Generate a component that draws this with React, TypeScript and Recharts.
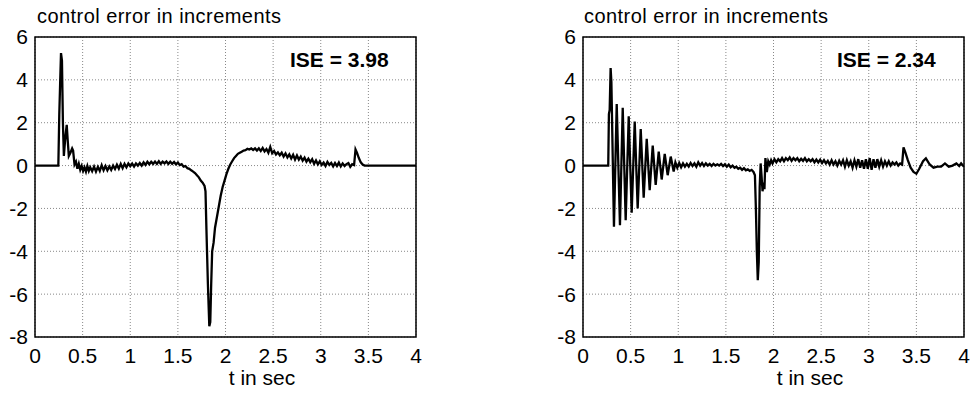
import { LineChart, Line, XAxis, YAxis, CartesianGrid, ReferenceArea } from 'recharts';

// time ticks and error ticks shared by both panels
const timeTicks = [0, 0.5, 1, 1.5, 2, 2.5, 3, 3.5, 4];
const errorTicks = [-8, -6, -4, -2, 0, 2, 4, 6];

const panelTitle = 'control error in increments';
const timeLabel = 't in sec';
const iseLabels = ['ISE = 3.98', 'ISE = 2.34'];

// left panel: sample times (s) and control error
const leftTime = [
  0, 0.24, 0.245, 0.255, 0.265, 0.273, 0.283, 0.293, 0.303, 0.318, 0.333, 0.343, 0.355, 0.372, 0.39, 0.4, 0.415,
  0.43, 0.445, 0.46, 0.475, 0.49, 0.505, 0.52, 0.535, 0.55, 0.565, 0.58, 0.6, 0.62, 0.64, 0.66, 0.68, 0.7,
  0.72, 0.74, 0.76, 0.78, 0.8, 0.82, 0.84, 0.86, 0.88, 0.9, 0.92, 0.94, 0.96, 0.98, 1.0, 1.02, 1.04, 1.06,
  1.08, 1.1, 1.12, 1.14, 1.16, 1.18, 1.2, 1.22, 1.24, 1.26, 1.28, 1.3, 1.32, 1.34, 1.36, 1.38, 1.4, 1.42,
  1.44, 1.46, 1.48, 1.5, 1.52, 1.54, 1.56, 1.58, 1.6, 1.62, 1.64, 1.66, 1.68, 1.7, 1.72, 1.74, 1.76, 1.78,
  1.79, 1.8, 1.815, 1.83, 1.84, 1.85, 1.86, 1.875, 1.89, 1.91, 1.93, 1.95, 1.97, 1.99, 2.01, 2.03, 2.05,
  2.07, 2.09, 2.11, 2.13, 2.15, 2.17, 2.19, 2.21, 2.23, 2.25, 2.27, 2.29, 2.31, 2.33, 2.35, 2.37, 2.39,
  2.41, 2.43, 2.45, 2.47, 2.49, 2.51, 2.53, 2.55, 2.57, 2.59, 2.61, 2.63, 2.65, 2.67, 2.69, 2.71, 2.73,
  2.75, 2.77, 2.79, 2.81, 2.83, 2.85, 2.87, 2.89, 2.91, 2.93, 2.95, 2.97, 2.99, 3.01, 3.03, 3.05, 3.07,
  3.09, 3.11, 3.13, 3.15, 3.17, 3.19, 3.21, 3.23, 3.25, 3.27, 3.29, 3.31, 3.33, 3.35, 3.365, 3.38, 3.4,
  3.42, 3.44, 3.46, 4.0,
];
const leftError = [
  0, 0, 0, 2.4, 4.0, 5.25, 4.9, 2.0, 0.45, 1.3, 1.9, 1.2, 0.45, 0.6, 0.8, 0.7, 0.05,
  0.18, -0.15, 0.08, -0.2, -0.02, -0.25, -0.08, -0.28, -0.02, -0.25, -0.08, -0.26, -0.05, -0.28, -0.06, -0.25, 0.02,
  -0.22, -0.02, -0.22, -0.04, -0.2, 0.0, -0.16, 0.04, -0.14, 0.08, -0.12, 0.08, -0.08, 0.1, -0.03, 0.09, -0.05, 0.1,
  0.0, 0.12, 0.0, 0.15, 0.03, 0.18, 0.06, 0.18, 0.08, 0.19, 0.08, 0.2, 0.08, 0.18, 0.1, 0.19, 0.08, 0.18,
  0.08, 0.17, 0.06, 0.14, 0.02, 0.06, -0.05, -0.02, -0.12, -0.15, -0.22, -0.28, -0.35, -0.45, -0.55, -0.7, -0.8, -0.95,
  -1.2, -3.0, -5.5, -7.5, -7.3, -5.5, -4.0, -3.6, -2.9, -2.4, -1.9, -1.4, -1.0, -0.7, -0.4, -0.15, 0.05,
  0.2, 0.35, 0.45, 0.55, 0.6, 0.65, 0.7, 0.72, 0.78, 0.75, 0.8, 0.73, 0.8, 0.7, 0.8, 0.68, 0.82,
  0.66, 0.77, 0.6, 0.87, 0.58, 0.68, 0.52, 0.62, 0.48, 0.6, 0.42, 0.57, 0.38, 0.52, 0.33, 0.5, 0.28,
  0.47, 0.28, 0.42, 0.23, 0.37, 0.18, 0.32, 0.16, 0.3, 0.08, 0.24, 0.06, 0.2, 0.03, 0.14, -0.02, 0.17,
  0.03, 0.12, -0.04, 0.12, -0.02, 0.14, -0.04, 0.1, -0.02, 0.07, 0.12, -0.06, 0.06, 0.02, 0.75, 0.6, 0.35,
  0.15, 0.05, 0.0, 0,
];

// right panel: sample times (s) and control error
const rightTime = [
  0, 0.265, 0.272, 0.28, 0.29, 0.298, 0.325, 0.354, 0.388, 0.417, 0.448, 0.48, 0.511, 0.543, 0.574, 0.606,
  0.637, 0.669, 0.7, 0.732, 0.763, 0.795, 0.826, 0.858, 0.889, 0.921, 0.952, 0.97, 0.99, 1.01, 1.03, 1.05,
  1.07, 1.09, 1.11, 1.13, 1.15, 1.17, 1.19, 1.21, 1.23, 1.25, 1.27, 1.29, 1.31, 1.33, 1.35, 1.37, 1.39,
  1.41, 1.43, 1.45, 1.47, 1.49, 1.51, 1.53, 1.55, 1.57, 1.59, 1.61, 1.63, 1.65, 1.67, 1.69, 1.71, 1.73,
  1.75, 1.77, 1.79, 1.805, 1.815, 1.825, 1.835, 1.845, 1.855, 1.865, 1.875, 1.885, 1.895, 1.905, 1.915,
  1.93, 1.945, 1.96, 1.975, 1.99, 2.01, 2.03, 2.05, 2.07, 2.09, 2.11, 2.13, 2.15, 2.17, 2.19, 2.21, 2.23,
  2.25, 2.27, 2.29, 2.31, 2.33, 2.35, 2.37, 2.39, 2.41, 2.43, 2.45, 2.47, 2.49, 2.51, 2.53, 2.55, 2.57,
  2.59, 2.61, 2.63, 2.65, 2.67, 2.69, 2.71, 2.73, 2.75, 2.77, 2.79, 2.81, 2.83, 2.85, 2.87, 2.89, 2.91,
  2.93, 2.95, 2.97, 2.99, 3.01, 3.03, 3.05, 3.07, 3.09, 3.11, 3.13, 3.15, 3.17, 3.19, 3.21, 3.23, 3.25,
  3.27, 3.29, 3.31, 3.33, 3.35, 3.365, 3.385, 3.41, 3.44, 3.47, 3.5, 3.53, 3.57, 3.6, 3.64, 3.68, 3.72,
  3.76, 3.8, 3.84, 3.88, 3.92, 3.95, 3.97, 4.0,
];
const rightError = [
  0, 0, 2.4, 2.6, 4.55, 3.9, -2.85, 2.87, -2.78, 2.7, -2.55, 2.3, -2.2, 2.05, -2.0, 1.7,
  -1.5, 1.25, -1.15, 0.93, -0.9, 0.65, -0.65, 0.55, -0.45, 0.42, -0.28, 0.15, -0.1, 0.12, -0.08, 0.1,
  -0.05, 0.08, -0.05, 0.12, -0.02, 0.1, -0.05, 0.15, 0.0, 0.12, -0.02, 0.1, 0.0, 0.08, -0.02, 0.08, 0.0,
  0.06, 0.0, 0.08, -0.02, 0.06, -0.05, 0.05, -0.08, 0.0, -0.1, -0.05, -0.15, -0.1, -0.2, -0.12, -0.22, -0.18,
  -0.25, -0.2, -0.3, -0.45, -2.0, -4.0, -5.35, -4.5, -1.0, 0.1, -0.5, -1.2, -0.8, -1.1, 0.35,
  -0.3, 0.2, 0.05, 0.25, 0.1, 0.3, 0.15, 0.3, 0.2, 0.35, 0.2, 0.35, 0.25, 0.38, 0.22, 0.35, 0.25,
  0.35, 0.2, 0.32, 0.22, 0.35, 0.2, 0.3, 0.2, 0.3, 0.15, 0.28, 0.15, 0.28, 0.12, 0.25, 0.1, 0.22,
  0.05, 0.25, 0.05, 0.2, 0.0, 0.22, 0.05, 0.25, -0.05, 0.25, 0.0, 0.2, -0.1, 0.25, -0.05, 0.3, -0.1,
  0.25, -0.15, 0.3, -0.15, 0.35, -0.2, 0.3, -0.1, 0.3, -0.05, 0.25, -0.05, 0.2, 0.0, 0.2, 0.0, 0.15,
  0.05, 0.15, 0.0, 0.1, 0.05, 0.85, 0.6, 0.25, -0.1, -0.3, -0.38, -0.15, 0.2, 0.34, 0.05, -0.1, -0.05,
  -0.05, 0.1, -0.05, 0.0, 0.1, -0.02, 0.1, -0.05,
];

const leftData = leftTime.map((t, i) => ({ t, e: leftError[i] }));
const rightData = rightTime.map((t, i) => ({ t, e: rightError[i] }));

const FONT = '"Liberation Sans", Arial, sans-serif';
const tickStyle = { fill: '#000', fontSize: 21, fontFamily: FONT };

function ErrorPanel({ data, yAxisWidth, rightMargin }: { data: { t: number; e: number }[]; yAxisWidth: number; rightMargin: number }) {
  return (
    <LineChart width={487} height={399} data={data} margin={{ top: 37, right: rightMargin, bottom: 0, left: 0 }}>
      <CartesianGrid stroke="#888" strokeDasharray="1 2" />
      <XAxis
        type="number"
        dataKey="t"
        domain={[0, 4]}
        ticks={timeTicks}
        height={62}
        tick={tickStyle}
        tickLine={false}
        axisLine={false}
        tickSize={0}
        tickMargin={11}
        allowDataOverflow
      />
      <YAxis
        type="number"
        domain={[-8, 6]}
        ticks={errorTicks}
        width={yAxisWidth}
        tick={tickStyle}
        tickLine={false}
        axisLine={false}
        tickSize={0}
        tickMargin={7}
        allowDataOverflow
      />
      <ReferenceArea x1={0} x2={4} y1={-8} y2={6} fill="none" stroke="#000" strokeWidth={1.5} />
      <Line type="linear" dataKey="e" stroke="#000" strokeWidth={2.3} dot={false} isAnimationActive={false} />
    </LineChart>
  );
}

export default function App() {
  return (
    <div style={{ position: 'absolute', left: 0, top: 0, width: 974, height: 399, background: '#fff', fontFamily: FONT }}>
      <div style={{ position: 'absolute', left: 0, top: 0 }}>
        <ErrorPanel data={leftData} yAxisWidth={35} rightMargin={71} />
      </div>
      <div style={{ position: 'absolute', left: 487, top: 0 }}>
        <ErrorPanel data={rightData} yAxisWidth={96} rightMargin={10} />
      </div>
      <svg width={974} height={399} style={{ position: 'absolute', left: 0, top: 0, pointerEvents: 'none' }}>
        <text x={37} y={23} fontSize={20} fontFamily={FONT} textLength={244} lengthAdjust="spacing">{panelTitle}</text>
        <text x={584} y={23} fontSize={20} fontFamily={FONT} textLength={244} lengthAdjust="spacing">{panelTitle}</text>
        <text x={290} y={67} fontSize={21} fontWeight="bold" fontFamily={FONT}>{iseLabels[0]}</text>
        <text x={837} y={67} fontSize={21} fontWeight="bold" fontFamily={FONT}>{iseLabels[1]}</text>
        <text x={262} y={385} fontSize={21} textAnchor="middle" fontFamily={FONT}>{timeLabel}</text>
        <text x={810} y={385} fontSize={21} textAnchor="middle" fontFamily={FONT}>{timeLabel}</text>
      </svg>
    </div>
  );
}
